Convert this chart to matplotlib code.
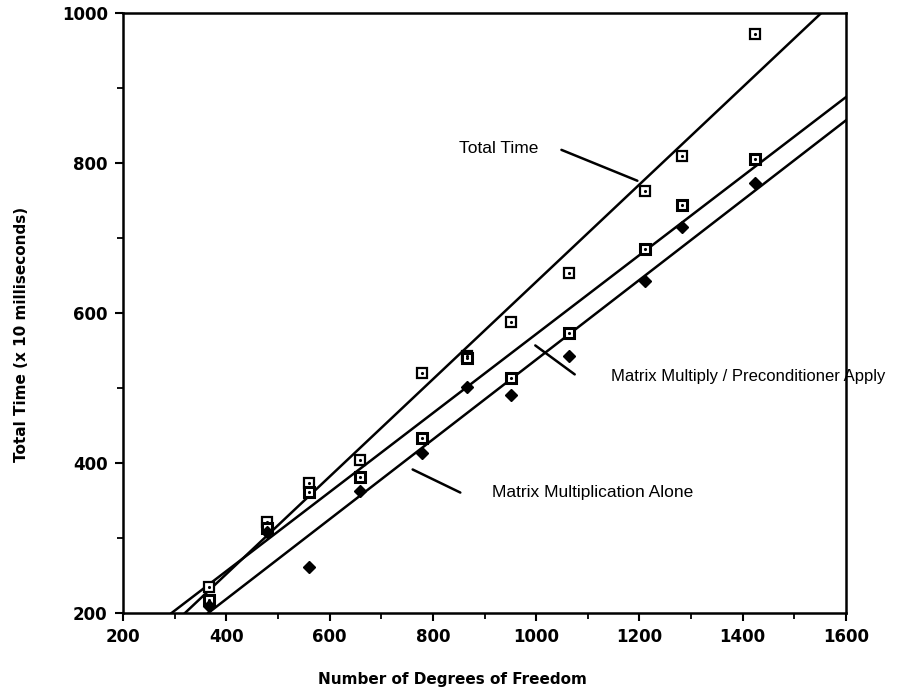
import numpy as np
import matplotlib
matplotlib.use('Agg')
import matplotlib.pyplot as plt
from matplotlib.ticker import MultipleLocator

# degrees of freedom for each run
dof = [366, 479, 561, 658, 778, 866, 951, 1063, 1211, 1283, 1424]

# times (x 10 ms)
total_time = [235, 321, 374, 404, 520, 543, 588, 653, 763, 810, 972]
mult_precond = [217, 313, 361, 381, 433, 540, 513, 574, 685, 744, 805]
mult_alone = [209, 308, 261, 363, 413, 502, 491, 543, 643, 715, 774]

# fitted lines (end points as drawn)
fit_total_x = [320, 1552]
fit_total_y = [200, 1000]
fit_precond_x = [294, 1600]
fit_precond_y = [200, 888]
fit_alone_x = [365, 1600]
fit_alone_y = [200, 857]

fig = plt.figure(figsize=(9.14, 6.88), dpi=100)
ax = fig.add_axes([0.1346, 0.109, 0.791, 0.872])

lw = 1.8
ax.plot(fit_total_x, fit_total_y, color='black', lw=lw)
ax.plot(fit_precond_x, fit_precond_y, color='black', lw=lw)
ax.plot(fit_alone_x, fit_alone_y, color='black', lw=lw)

ax.plot(dof, total_time, 's', ms=7, mfc='white', mec='black', mew=1.6, zorder=3)
ax.plot(dof, total_time, '.', ms=2.5, color='black', zorder=4)
ax.plot(dof, mult_precond, 's', ms=7, mfc='white', mec='black', mew=2.2, zorder=3)
ax.plot(dof, mult_precond, '.', ms=2.5, color='black', zorder=4)
ax.plot(dof, mult_alone, 'D', ms=6.5, color='black', zorder=3)

ax.set_xlim(200, 1600)
ax.set_ylim(200, 1000)
ax.xaxis.set_major_locator(MultipleLocator(200))
ax.xaxis.set_minor_locator(MultipleLocator(100))
ax.yaxis.set_major_locator(MultipleLocator(200))
ax.yaxis.set_minor_locator(MultipleLocator(100))
ax.tick_params(which='major', direction='out', length=6, width=1.5, pad=5)
ax.tick_params(which='minor', direction='out', length=4, width=1.3)
for lab in ax.get_xticklabels() + ax.get_yticklabels():
    lab.set_fontfamily('DejaVu Sans')
    lab.set_fontweight('bold')
    lab.set_fontsize(12)
for s in ax.spines.values():
    s.set_linewidth(1.8)

ax.set_xlabel('Number of Degrees of Freedom', fontsize=11, fontweight='bold', family='DejaVu Sans')
ax.set_ylabel('Total Time (x 10 milliseconds)', fontsize=11, fontweight='bold', family='DejaVu Sans')
ax.xaxis.set_label_coords(0.456, -0.098)
ax.yaxis.set_label_coords(-0.13, 0.465)

# labels with leader lines
afont = dict(family='Liberation Sans', va='center', ha='left')
ax.text(851, 820, 'Total Time', fontsize=12.5, **afont)
ax.annotate('', xy=(1201, 775), xytext=(1044, 819), arrowprops=dict(arrowstyle='-', lw=lw))
ax.text(1145, 515, 'Matrix Multiply / Preconditioner Apply', fontsize=12, clip_on=False, **afont)
ax.annotate('', xy=(994, 559), xytext=(1079, 516), arrowprops=dict(arrowstyle='-', lw=lw))
ax.text(915, 361, 'Matrix Multiplication Alone', fontsize=12.5, **afont)
ax.annotate('', xy=(756, 393), xytext=(858, 359), arrowprops=dict(arrowstyle='-', lw=lw))

fig.savefig('out.png', dpi=100)
